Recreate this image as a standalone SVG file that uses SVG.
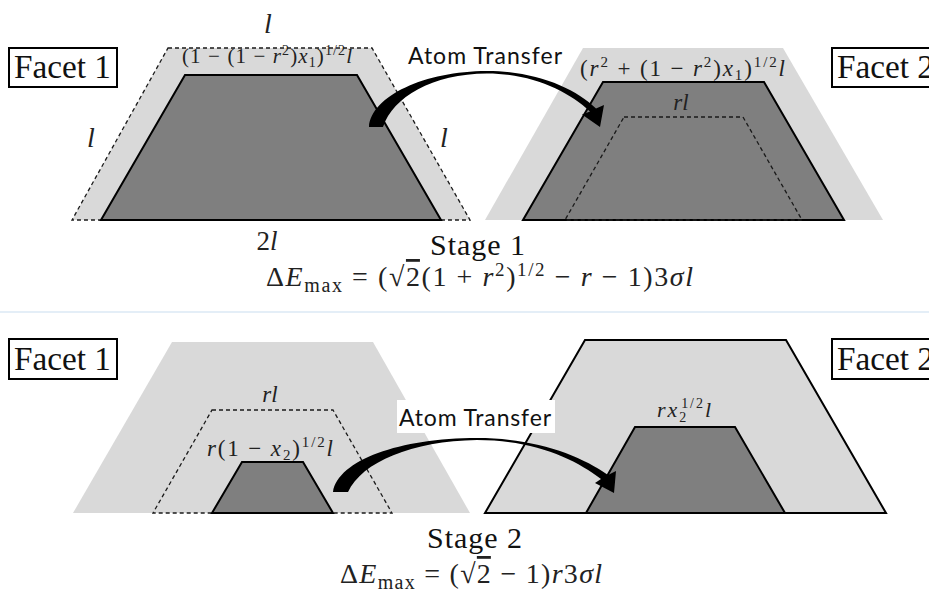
<svg xmlns="http://www.w3.org/2000/svg" width="929" height="593" viewBox="0 0 929 593">
<style>
.light{fill:#d9d9d9;stroke:none}
.lightb{fill:#d9d9d9;stroke:#000;stroke-width:2}
.dark{fill:#7f7f7f;stroke:#000;stroke-width:2;stroke-linejoin:miter}
.dash{fill:none;stroke:#1a1a1a;stroke-width:1.3;stroke-dasharray:4 3}
.box{fill:#fff;stroke:#000;stroke-width:2}
.lbl{font-family:"Liberation Serif","Times New Roman",serif;fill:#111}
.m{font-family:"Liberation Serif","Times New Roman",serif;fill:#222}
.i{font-style:italic}
.sans{font-family:Lato,"Liberation Sans",Arial,sans-serif;fill:#111}
.arrow{fill:#000;stroke:none}
</style>
<rect x="0" y="0" width="929" height="593" fill="#fff"/>
<line x1="0" y1="312" x2="929" y2="312" stroke="#c9def0" stroke-width="1.2"/>

<!-- Stage 1 -->
<g id="s1-facet1">
  <polygon class="light" points="168,48 372,48 470,220 72,220"/>
  <polygon class="dash" points="168,48 372,48 470,220 72,220"/>
  <polygon class="dark" points="185,75 357,75 441,220 101,220"/>
  <rect class="box" x="9" y="48" width="108" height="39"/>
  <text class="lbl" x="14" y="78" font-size="33" textLength="97" lengthAdjust="spacingAndGlyphs">Facet 1</text>
  <text class="m i" x="268" y="33" font-size="28" text-anchor="middle">l</text>
  <text class="m i" x="91" y="147" font-size="28" text-anchor="middle">l</text>
  <text class="m i" x="444" y="147" font-size="28" text-anchor="middle">l</text>
  <text class="m" x="267" y="250" font-size="27" text-anchor="middle">2<tspan class="i">l</tspan></text>
  <text class="m" x="182" y="63" font-size="21" textLength="170" lengthAdjust="spacing">(1 − (1 − <tspan class="i">r</tspan><tspan font-size="14" baseline-shift="8">2</tspan>)<tspan class="i">x</tspan><tspan font-size="14" baseline-shift="-4">1</tspan>)<tspan font-size="14" baseline-shift="8">1/2</tspan><tspan class="i">l</tspan></text>
</g>

<g id="s1-facet2">
  <polygon class="light" points="583,48 783,48 883,220 485,220"/>
  <polygon class="dark" points="603,82 764,82 844,220 523,220"/>
  <polygon class="dash" points="624,117 743,117 802,220 565,220"/>
  <rect class="box" x="832" y="48" width="108" height="39"/>
  <text class="lbl" x="837" y="78" font-size="33" textLength="97" lengthAdjust="spacingAndGlyphs">Facet 2</text>
  <text class="m" x="580" y="76" font-size="23" textLength="205" lengthAdjust="spacing">(<tspan class="i">r</tspan><tspan font-size="15" baseline-shift="9">2</tspan> + (1 − <tspan class="i">r</tspan><tspan font-size="15" baseline-shift="9">2</tspan>)<tspan class="i">x</tspan><tspan font-size="15" baseline-shift="-4">1</tspan>)<tspan font-size="15" baseline-shift="9">1/2</tspan><tspan class="i">l</tspan></text>
  <text class="m i" x="681" y="110" font-size="23" text-anchor="middle">rl</text>
</g>

<g id="s1-captions">
  <text class="lbl" x="430" y="255" font-size="30" textLength="95" lengthAdjust="spacing">Stage 1</text>
  <text class="m" x="266" y="286" font-size="28" textLength="427" lengthAdjust="spacing">Δ<tspan class="i">E</tspan><tspan font-size="20" baseline-shift="-6">max</tspan> = (√<tspan text-decoration="overline">2</tspan>(1 + <tspan class="i">r</tspan><tspan font-size="19" baseline-shift="10">2</tspan>)<tspan font-size="19" baseline-shift="10">1/2</tspan> − <tspan class="i">r</tspan> − 1)3<tspan class="i">σl</tspan></text>
</g>

<!-- Stage 2 -->
<g id="s2-facet1">
  <polygon class="light" points="172,342 373,342 470,513 73,513"/>
  <polygon class="dash" points="212,410 333,410 392,513 153,513"/>
  <polygon class="dark" points="242,462 303,462 333,513 212,513"/>
  <rect class="box" x="9" y="339" width="108" height="40"/>
  <text class="lbl" x="14" y="370" font-size="33" textLength="97" lengthAdjust="spacingAndGlyphs">Facet 1</text>
  <text class="m i" x="270" y="402" font-size="23" text-anchor="middle">rl</text>
  <text class="m" x="207" y="456" font-size="23" textLength="126" lengthAdjust="spacing"><tspan class="i">r</tspan>(1 − <tspan class="i">x</tspan><tspan font-size="15" baseline-shift="-4">2</tspan>)<tspan font-size="15" baseline-shift="9">1/2</tspan><tspan class="i">l</tspan></text>
</g>

<g id="s2-facet2">
  <polygon class="lightb" points="585,340 786,340 886,513 485,513"/>
  <polygon class="dark" points="635,427 735,427 785,513 586,513"/>
  <rect class="box" x="832" y="339" width="108" height="40"/>
  <text class="lbl" x="837" y="370" font-size="33" textLength="97" lengthAdjust="spacingAndGlyphs">Facet 2</text>
  <text class="m" x="657" y="417" font-size="22" textLength="54" lengthAdjust="spacing"><tspan class="i">rx</tspan><tspan font-size="14" baseline-shift="-5">2</tspan><tspan font-size="14" baseline-shift="9" dx="-7">1/2</tspan><tspan class="i">l</tspan></text>
</g>

<g id="s2-captions">
  <text class="lbl" x="427" y="548" font-size="30" textLength="95" lengthAdjust="spacing">Stage 2</text>
  <text class="m" x="340" y="583" font-size="28" textLength="262" lengthAdjust="spacing">Δ<tspan class="i">E</tspan><tspan font-size="20" baseline-shift="-6">max</tspan> = (√<tspan text-decoration="overline">2</tspan> − 1)<tspan class="i">r</tspan>3<tspan class="i">σl</tspan></text>
</g>

<!-- connectors -->
<g id="connectors">
  <g id="transfer-1">
    <path class="arrow" d="M369,127 C371,96 425,71 487,71 C535,71 575,88 596,108.5 L604,105 L600,127 L582,114.5 L590,111.5 C568,91 532,73.5 487,73.5 C432,74 393,97 383,127 Z"/>
    <text class="sans" x="408" y="64" font-size="23" textLength="154" lengthAdjust="spacing">Atom Transfer</text>
  </g>
  <g id="transfer-2">
    <path class="arrow" d="M333,492 C338,460 400,438 477,438 C535,438 580,455 608,475 L616,471 L614,493 L595,483 L601,479 C575,459 535,440 477,440 C412,441 362,462 348,492 Z"/>
    <rect x="397" y="400" width="158" height="33" fill="#fff"/>
    <text class="sans" x="399" y="426" font-size="23" textLength="152" lengthAdjust="spacing">Atom Transfer</text>
  </g>
</g>
</svg>
